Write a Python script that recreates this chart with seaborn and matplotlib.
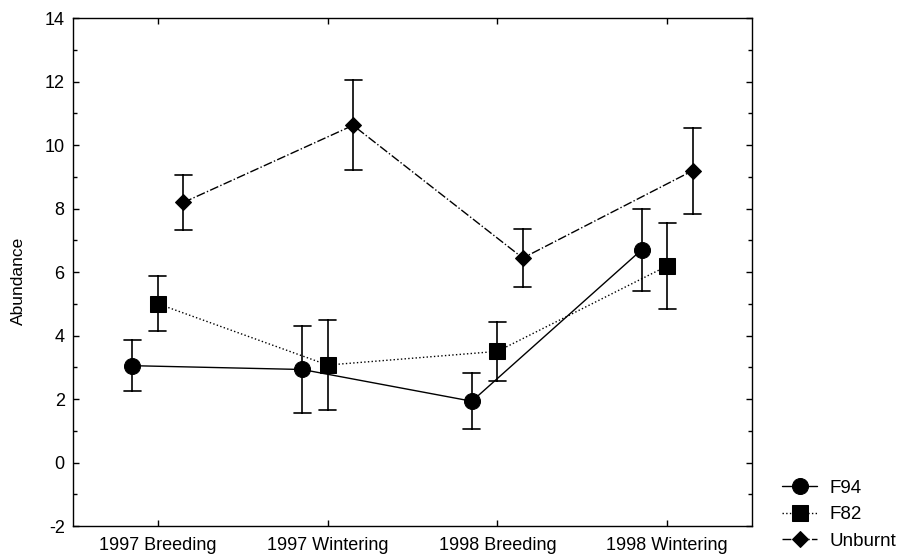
import matplotlib
matplotlib.use("Agg")
import matplotlib.pyplot as plt
from matplotlib.markers import MarkerStyle
from matplotlib.transforms import Affine2D
from matplotlib.ticker import MultipleLocator, FixedLocator
import pandas as pd
import seaborn as sns

# Survey periods and fire-history treatments
periods = ["1997 Breeding", "1997 Wintering", "1998 Breeding", "1998 Wintering"]
habitats = ["F94", "F82", "Unburnt"]

# Mean abundance and error half-widths per treatment
f94_mean = [3.05, 2.93, 1.93, 6.70]
f94_err = [0.81, 1.36, 0.88, 1.29]
f82_mean = [5.00, 3.07, 3.50, 6.19]
f82_err = [0.86, 1.43, 0.92, 1.36]
unburnt_mean = [8.19, 10.62, 6.44, 9.19]
unburnt_err = [0.86, 1.42, 0.91, 1.35]

y_ticks = [-2, 0, 2, 4, 6, 8, 10, 12, 14]

means = {"F94": f94_mean, "F82": f82_mean, "Unburnt": unburnt_mean}
errs = {"F94": f94_err, "F82": f82_err, "Unburnt": unburnt_err}

# Each point is stored as its lower and upper bound: the mean of the pair is
# the plotted value and the min/max of the pair is the error interval.
rows = []
for h in habitats:
    for p, m, e in zip(periods, means[h], errs[h]):
        rows.append({"period": p, "habitat": h, "value": m - e})
        rows.append({"period": p, "habitat": h, "value": m + e})
df = pd.DataFrame(rows)

sns.set_theme(style="ticks")
plt.rcParams["font.family"] = ["Liberation Sans", "DejaVu Sans"]
plt.rcParams["axes.unicode_minus"] = False
plt.rcParams["text.color"] = "black"
plt.rcParams["axes.labelcolor"] = "black"

fig = plt.figure(figsize=(8.98, 5.54), dpi=100)
ax = fig.add_axes([0.0813, 0.0505, 0.7561, 0.917])

diamond = MarkerStyle("D", transform=Affine2D().scale(0.67))

sns.pointplot(
    data=df, x="period", y="value", hue="habitat",
    order=periods, hue_order=habitats,
    palette={h: "black" for h in habitats},
    markers=["o", "s", diamond],
    linestyles=["-", ":", "-."],
    dodge=0.3,
    errorbar=lambda v: (v.min(), v.max()),
    capsize=0.1,
    err_kws={"linewidth": 1.2},
    markersize=11.5,
    linewidth=1.0,
    ax=ax,
)

ax.set_xlim(-0.5, 3.5)
ax.set_ylim(-2, 14)
ax.yaxis.set_major_locator(FixedLocator(y_ticks))
ax.yaxis.set_minor_locator(MultipleLocator(1))
ax.set_xlabel("")
ax.set_ylabel("Abundance", fontsize=12.5, color="black")
ax.yaxis.set_label_coords(-0.069, 0.482)

for s in ax.spines.values():
    s.set_visible(True)
    s.set_linewidth(1.0)
    s.set_color("black")

ax.tick_params(axis="both", which="both", direction="in", top=True, right=True,
               colors="black", width=1.0)
ax.tick_params(axis="both", which="major", length=4)
ax.tick_params(axis="y", which="minor", length=3)
ax.tick_params(axis="x", which="major", labelsize=13, pad=8)
ax.tick_params(axis="y", which="major", labelsize=13, pad=6)

leg = ax.legend(loc="lower left", bbox_to_anchor=(0.871, 0.008),
                bbox_transform=fig.transFigure, frameon=False, fontsize=13.5,
                handlelength=1.87, handletextpad=0.65, labelspacing=0.5,
                borderaxespad=0, borderpad=0)
for t in leg.get_texts():
    t.set_color("black")

fig.savefig("out.png", dpi=100)
